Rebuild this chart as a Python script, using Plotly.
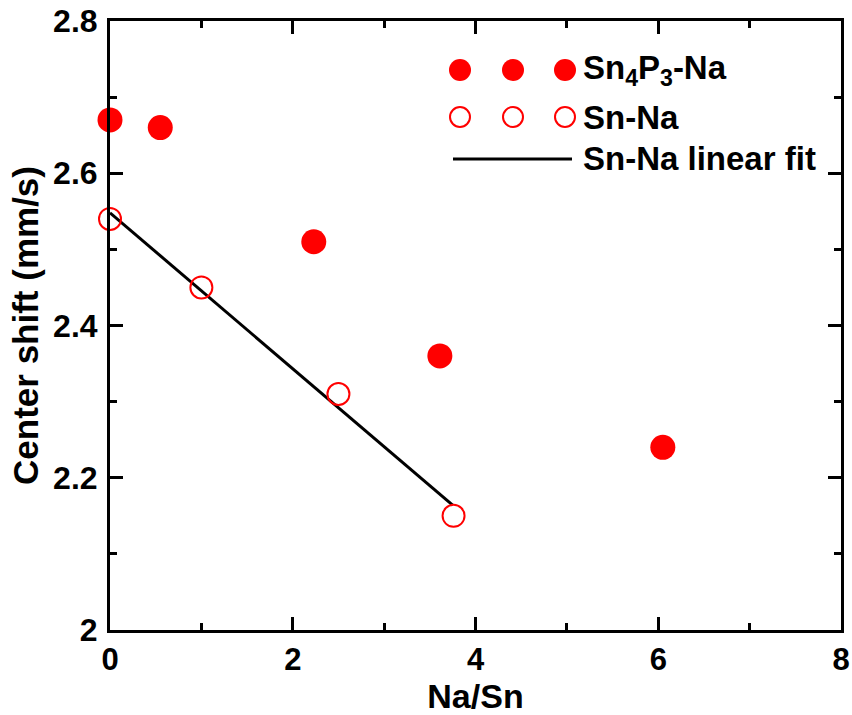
import plotly.graph_objects as go

# Data
sn4p3_x = [0.0, 0.55, 2.23, 3.61, 6.05]
sn4p3_y = [2.67, 2.66, 2.51, 2.36, 2.24]
snna_x = [0.0, 1.0, 2.5, 3.76]
snna_y = [2.54, 2.45, 2.31, 2.15]
fit_x = [0.0, 3.75]
fit_y = [2.548, 2.164]
x_ticks = [0, 2, 4, 6, 8]
y_ticks = [2.0, 2.2, 2.4, 2.6, 2.8]
y_tick_labels = ["2", "2.2", "2.4", "2.6", "2.8"]
legend_labels = ["Sn<sub>4</sub>P<sub>3</sub>-Na", "Sn-Na", "Sn-Na linear fit"]

W, H = 852, 715
ML, MR, MT, MB = 110, 11, 21, 85
PW, PH = W - ML - MR, H - MT - MB

def px(x):
    return (x - ML) / PW

def py(y):
    return (H - MB - y) / PH

FONT = "Liberation Sans, Arial, sans-serif"

fig = go.Figure()
fig.add_trace(go.Scatter(x=fit_x, y=fit_y, mode="lines",
                         line=dict(color="black", width=3), showlegend=False))
fig.add_trace(go.Scatter(x=sn4p3_x, y=sn4p3_y, mode="markers",
                         marker=dict(color="red", size=25, line=dict(width=0)),
                         cliponaxis=False, showlegend=False))
fig.add_trace(go.Scatter(x=snna_x, y=snna_y, mode="markers",
                         marker=dict(color="red", size=22, symbol="circle-open",
                                     line=dict(color="red", width=2)),
                         cliponaxis=False, showlegend=False))

shapes = []
annotations = []
# custom legend (Origin style: three symbols per entry)
leg_sym_x = [460, 513, 565]
leg_rows_y = [70, 117, 159]
for cx in leg_sym_x:
    shapes.append(dict(type="circle", xref="paper", yref="paper",
                       xsizemode="pixel", ysizemode="pixel",
                       xanchor=px(cx), yanchor=py(leg_rows_y[0]),
                       x0=-11, x1=11, y0=-11, y1=11,
                       fillcolor="red", line=dict(width=0)))
    shapes.append(dict(type="circle", xref="paper", yref="paper",
                       xsizemode="pixel", ysizemode="pixel",
                       xanchor=px(cx), yanchor=py(leg_rows_y[1]),
                       x0=-10, x1=10, y0=-10, y1=10,
                       fillcolor="rgba(0,0,0,0)", line=dict(color="red", width=2)))
shapes.append(dict(type="line", xref="paper", yref="paper",
                   x0=px(453), x1=px(572), y0=py(leg_rows_y[2]), y1=py(leg_rows_y[2]),
                   line=dict(color="black", width=3)))
for lab, ry in zip(legend_labels, leg_rows_y):
    annotations.append(dict(text="<b>" + lab + "</b>", xref="paper", yref="paper",
                            x=px(581), y=py(ry), xanchor="left", yanchor="middle",
                            showarrow=False, font=dict(family=FONT, size=33, color="black")))

axis_common = dict(showline=True, linecolor="black", linewidth=3, mirror="ticks",
                   ticks="inside", ticklen=13, tickwidth=3, tickcolor="black",
                   showgrid=False, zeroline=False, automargin=False,
                   minor=dict(ticks="inside", ticklen=7, tickwidth=3, tickcolor="black", showgrid=False))

fig.update_layout(
    width=W, height=H,
    margin=dict(l=ML, r=MR, t=MT, b=MB),
    paper_bgcolor="white", plot_bgcolor="white",
    showlegend=False,
    shapes=shapes, annotations=annotations,
    xaxis=dict(range=[0, 8], tickvals=x_ticks, ticktext=["<b>%d</b>" % v for v in x_ticks],
               tickfont=dict(family=FONT, size=31, color="black"),
               ticklabelstandoff=0,
               title=dict(text="<b>Na/Sn</b>", font=dict(family=FONT, size=34, color="black"), standoff=0),
               **{**axis_common, "minor": dict(axis_common["minor"], dtick=1, tick0=0)}),
    yaxis=dict(range=[2.0, 2.8], tickvals=y_ticks, ticktext=["<b>%s</b>" % t for t in y_tick_labels],
               tickfont=dict(family=FONT, size=32, color="black"),
               ticklabelstandoff=3,
               title=dict(text="<b>Center shift (mm/s)</b>", font=dict(family=FONT, size=35, color="black"), standoff=4),
               **{**axis_common, "minor": dict(axis_common["minor"], dtick=0.1, tick0=2.0)}),
)

fig.write_html("out.html")
